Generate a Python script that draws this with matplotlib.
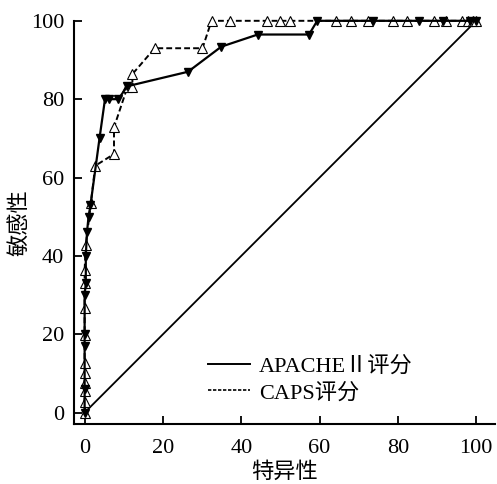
import matplotlib
matplotlib.use('Agg')
import matplotlib.pyplot as plt
from matplotlib.lines import Line2D

plt.rcParams['font.family'] = ['Liberation Serif', 'Noto Sans CJK SC']

# APACHE II (filled down triangles)
apache_x = [0, 0, 0, 0, 0, 0.3, 0.3, 0.6, 1.0, 1.5, 3.8, 5.2, 6.3, 8.6, 10.9,
            26.4, 34.9, 44.2, 57.3, 59.4, 73.6, 85.5, 91.6, 98.5, 100]
apache_y = [0, 6, 17, 20, 30, 33, 40, 46, 50, 53, 70, 80, 80, 80, 83.3,
            87, 93.4, 96.5, 96.5, 100, 100, 100, 100, 100, 100]

# CAPS (open up triangles)
caps_x = [0, 0, 0, 0, 0, 0, 0, 0, 0, 0, 0.3, 1.6, 2.7, 7.5, 7.5, 10.9, 12.2,
          12.2, 17.9, 30.1, 32.4, 37.2, 46.5, 50.0, 52.4, 64.1, 67.9, 72.4,
          78.7, 82.2, 89.3, 92.4, 96.3, 97.8, 99.2, 100]
caps_y = [0, 2.8, 5.4, 7.5, 10, 12.6, 19.8, 26.6, 33, 36.4, 42.8, 53.5, 63,
          66, 72.8, 83, 83, 86.4, 93, 93, 100, 100, 100, 100, 100, 100, 100,
          100, 100, 100, 100, 100, 100, 100, 100, 100]

ref_x = [0, 100]
ref_y = [0, 100]

fig = plt.figure(figsize=(4.97, 4.84), dpi=100)
ax = fig.add_axes([0.149, 0.124, 0.847, 0.833])

ax.plot(ref_x, ref_y, color='black', lw=1.3)
ax.plot(caps_x, caps_y, color='black', lw=1.4, ls=(0, (3, 1.6)),
        marker='^', ms=7.5, mfc='white', mec='black', mew=0.8, clip_on=False)
ax.plot(apache_x, apache_y, color='black', lw=1.6,
        marker='v', ms=6, mfc='black', mec='black', clip_on=False)

ax.set_xlim(-2.7, 104.8)
ax.set_ylim(-2.9, 100)
ax.set_xticks([0, 20, 40, 60, 80, 100])
ax.set_yticks([0, 20, 40, 60, 80, 100])
ax.spines['top'].set_visible(False)
ax.spines['right'].set_visible(False)
for s in ['left', 'bottom']:
    ax.spines[s].set_linewidth(1.5)
ax.tick_params(direction='in', length=5.5, width=1.3, labelsize=16)
ax.tick_params(axis='x', pad=11)
ax.tick_params(axis='y', pad=7)

ax.set_xlabel('特异性', fontsize=16, labelpad=3)
ax.set_ylabel('敏感性', fontsize=16)
ax.yaxis.set_label_coords(-0.105, 0.5)

handles = [Line2D([], [], color='black', lw=1.4),
           Line2D([], [], color='black', lw=1.2, ls=(0, (2, 1)))]
fig.legend(handles, ['APACHEⅡ评分', 'CAPS评分'], loc='center left',
           bbox_to_anchor=(0.418, 0.215), frameon=False, fontsize=16,
           handlelength=1.9, handletextpad=0.4, labelspacing=0.25,
           borderpad=0, borderaxespad=0)

fig.savefig('out.png', dpi=100)
